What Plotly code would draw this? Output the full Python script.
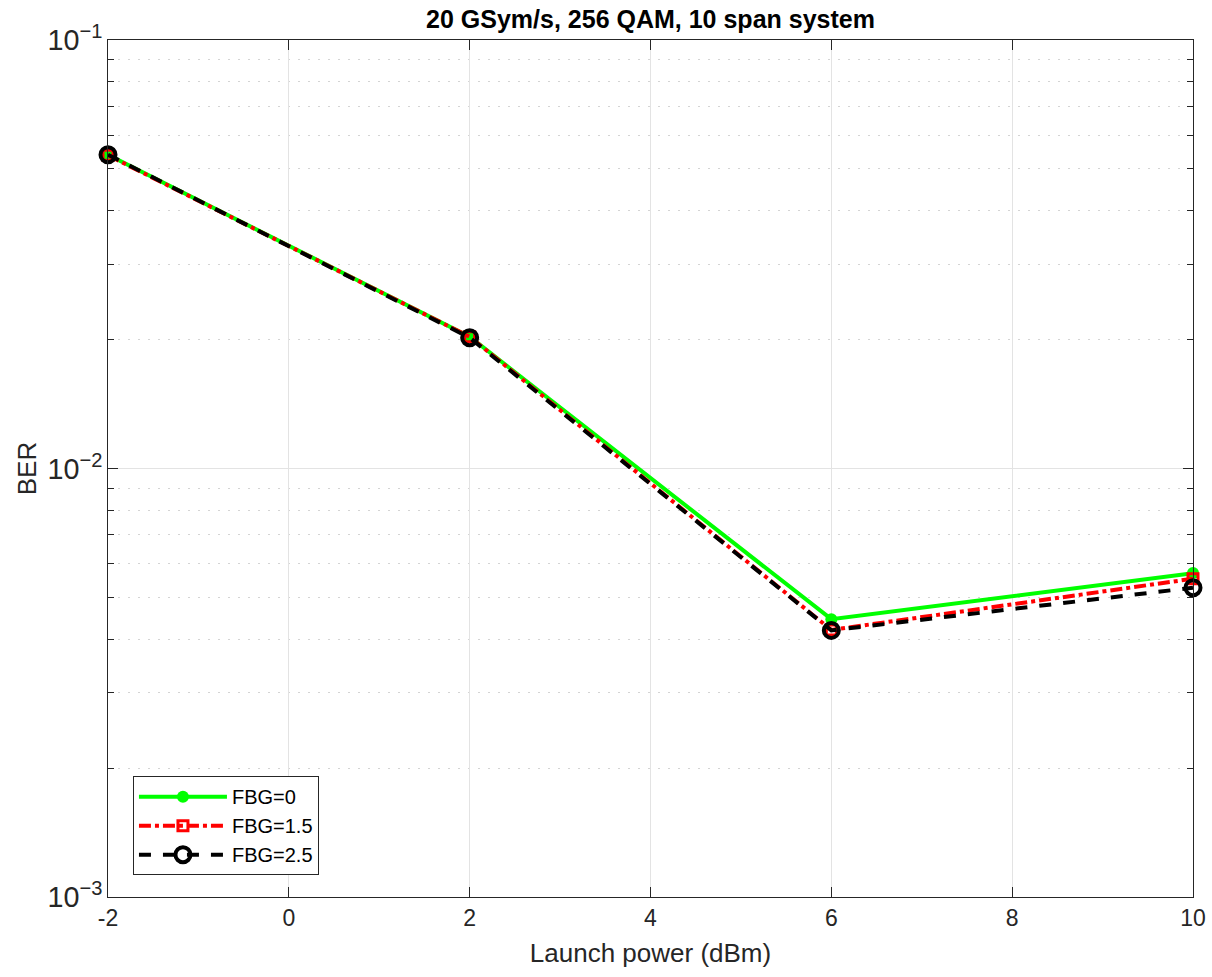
import plotly.graph_objects as go

launch_power = [-2, 2, 6, 10]
ber_fbg0 = [0.0540, 0.0203, 0.00445, 0.00570]
ber_fbg15 = [0.0538, 0.0203, 0.00420, 0.00553]
ber_fbg25 = [0.0540, 0.0202, 0.00419, 0.00527]
names = ["FBG=0", "FBG=1.5", "FBG=2.5"]
x_tick_values = [-2, 0, 2, 4, 6, 8, 10]
x_tick_labels = ["-2", "0", "2", "4", "6", "8", "10"]

fig = go.Figure()
fig.add_trace(go.Scatter(x=launch_power, y=ber_fbg0, name=names[0], mode="lines+markers",
                         cliponaxis=False,
                         line=dict(color="#00ff00", width=4),
                         marker=dict(symbol="circle", size=12, color="#00ff00")))
fig.add_trace(go.Scatter(x=launch_power, y=ber_fbg15, name=names[1], mode="lines+markers",
                         cliponaxis=False,
                         line=dict(color="#ff0000", width=4, dash="dashdot"),
                         marker=dict(symbol="square-open", size=10, color="#ff0000",
                                     line=dict(width=3, color="#ff0000"))))
fig.add_trace(go.Scatter(x=launch_power, y=ber_fbg25, name=names[2], mode="lines+markers",
                         cliponaxis=False,
                         line=dict(color="#000000", width=4, dash="dash"),
                         marker=dict(symbol="circle-open", size=15, color="#000000",
                                     line=dict(width=4, color="#000000"))))

font = "Liberation Sans"
fig.update_layout(
    width=1212, height=977,
    margin=dict(l=108, r=19, t=40, b=80, autoexpand=False),
    paper_bgcolor="white", plot_bgcolor="white",
    font=dict(family=font, size=23, color="#262626"),
    title=dict(text="<b>20 GSym/s, 256 QAM, 10 span system</b>", x=0.5, xanchor="center",
               xref="paper", y=0.989, yanchor="top", font=dict(family=font, size=25, color="black")),
    legend=dict(x=0.023, y=0.141, xanchor="left", yanchor="top",
                bordercolor="#262626", borderwidth=1, bgcolor="white",
                font=dict(family=font, size=20, color="black"), tracegroupgap=0,
                itemwidth=88),
    showlegend=True,
)
fig.update_xaxes(range=[-2, 10], tickvals=x_tick_values, ticktext=x_tick_labels,
                 showgrid=True, gridcolor="#e3e3e3",
                 gridwidth=1, zeroline=False, showline=True, linecolor="#262626", linewidth=1,
                 mirror="ticks", ticks="inside", ticklen=10, tickcolor="#262626",
                 title=dict(text="Launch power (dBm)", font=dict(family=font, size=26), standoff=14),
                 tickfont=dict(family=font, size=23))
fig.update_yaxes(type="log", range=[-3, -1], dtick=1, exponentformat="power",
                 showgrid=True, gridcolor="#e3e3e3", gridwidth=1, zeroline=False,
                 showline=True, linecolor="#262626", linewidth=1, mirror="ticks",
                 ticks="inside", ticklen=10, tickcolor="#262626",
                 minor=dict(dtick="D1", showgrid=True, griddash="2px,8px", gridcolor="#d4d4d4",
                            ticks="inside", ticklen=6, tickcolor="#262626"),
                 title=dict(text="BER", font=dict(family=font, size=26), standoff=3),
                 tickfont=dict(family=font, size=23))
fig.write_html("out.html")
